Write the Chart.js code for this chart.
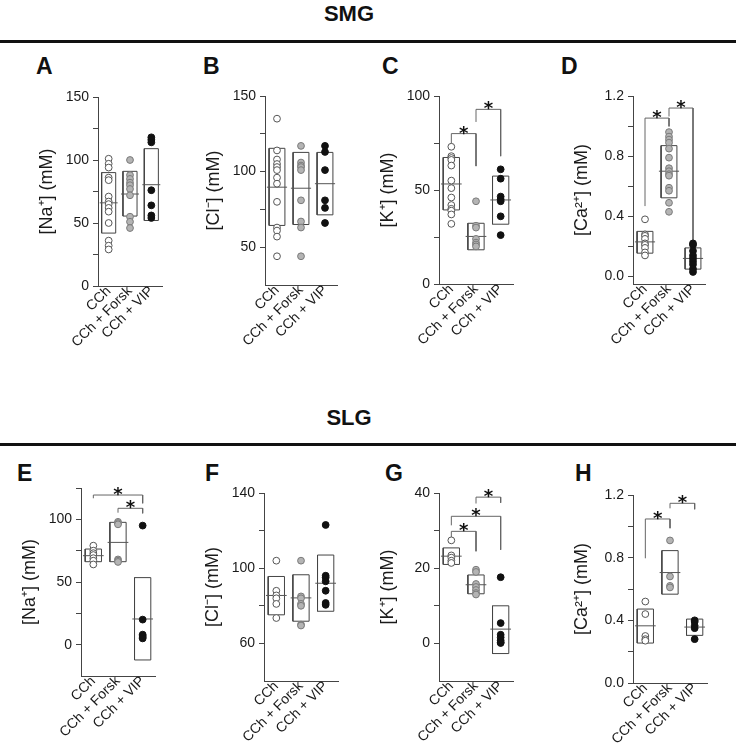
<!DOCTYPE html>
<html lang="en">
<head>
<meta charset="UTF-8">
<title>SMG / SLG ion content</title>
<script src="https://cdn.jsdelivr.net/npm/chart.js@4"></script>
<style>
  body { margin: 0; background: #fff; font-family: "Liberation Sans", Arial, sans-serif; }
  #page { position: relative; width: 737px; height: 753px; overflow: hidden; }
  .head { position: absolute; width: 120px; text-align: center; font-weight: bold; font-size: 22px; line-height: 22px; color: #111; }
  .rule { position: absolute; left: 0; width: 736px; height: 3px; background: #111; }
  .letter { position: absolute; font-weight: bold; font-size: 23px; line-height: 23px; color: #111; }
  canvas { position: absolute; }
</style>
</head>
<body>
<div id="page">
  <div class="head" style="left:289px; top:3px;">SMG</div>
  <div class="rule" style="top:40px;"></div>
  <div class="head" style="left:289px; top:407px;">SLG</div>
  <div class="rule" style="top:443px;"></div>
</div>
<script>
const groups = ['CCh', 'CCh + Forsk', 'CCh + VIP'];

// A  SMG [Na+]
const aCCh = [101, 97, 94, 86, 84, 71, 67, 65, 62, 59, 50, 36, 32, 29];
const aForsk = [100, 88, 85, 82, 80, 77, 72, 55, 51, 46];
const aVIP = [118, 116, 114, 76, 64, 56, 54];
const aMean = [66, 73, 80.4];
const aHigh = [90, 91, 109];
const aLow = [42, 55.5, 52];
const aBrackets = [];

// B  SMG [Cl-]
const bCCh = [135, 114, 108, 105, 103, 101, 96, 92, 80, 63, 61, 57, 44];
const bForsk = [117, 106, 104, 103, 101, 81, 67, 63, 44];
const bVIP = [117, 113, 101, 81, 76, 66];
const bMean = [89.7, 89, 92];
const bHigh = [115.4, 112.7, 112.7];
const bLow = [64.4, 65, 71.4];
const bBrackets = [];

// C  SMG [K+]
const cCCh = [73, 68, 67, 66, 63, 55, 51, 46, 42, 40, 39, 37, 32];
const cForsk = [44, 31, 30, 24, 22, 21, 20];
const cVIP = [61, 56, 46.5, 45, 44, 36, 26];
const cMean = [53.2, 25.3, 44.7];
const cHigh = [67.3, 32.3, 57.4];
const cLow = [39.4, 18.2, 31.8];
const cBrackets = [[0, 1, 74.2, 80, 62.7], [1, 2, 86.2, 92.9, 68]];

// D  SMG [Ca2+]
const dCCh = [0.38, 0.28, 0.27, 0.25, 0.22, 0.21, 0.19, 0.16, 0.14];
const dForsk = [0.96, 0.93, 0.91, 0.89, 0.85, 0.79, 0.72, 0.70, 0.68, 0.67, 0.59, 0.57, 0.49, 0.43];
const dVIP = [0.22, 0.21, 0.17, 0.14, 0.12, 0.10, 0.08, 0.05, 0.03];
const dMean = [0.23, 0.70, 0.12];
const dHigh = [0.30, 0.87, 0.19];
const dLow = [0.155, 0.523, 0.049];
const dBrackets = [[0, 1, 0.468, 1.053, 0.998], [1, 2, 1.064, 1.12, 0.24]];

// E  SLG [Na+]
const eCCh = [79, 75, 73, 71.5, 69, 67, 64];
const eForsk = [98, 97, 96, 68, 67, 66];
const eVIP = [95, 20, 8, 7, 6, 5];
const eMean = [71, 81.6, 20.5];
const eHigh = [76.3, 97.6, 53.5];
const eLow = [66.2, 66.2, -12.2];
const eBrackets = [[0, 2, 116.8, 119.4, 112.8], [1, 2, 105.3, 108.8, 104.8]];

// F  SLG [Cl-]
const fCCh = [104, 88, 85.5, 84, 81, 73.5];
const fForsk = [104, 85, 84, 81, 80, 70, 69.5];
const fVIP = [123, 96, 95, 93, 88, 81.5, 80.5];
const fMean = [85.5, 84.2, 92];
const fHigh = [95.6, 96.5, 107];
const fLow = [75.2, 71.8, 77.1];
const fBrackets = [];

// G  SLG [K+]
const gCCh = [27.4, 23.4, 22.8, 22, 21.4];
const gForsk = [19.6, 19, 15.8, 15, 14.2, 13.4, 13];
const gVIP = [17.6, 5.4, 2.3, 1.6, 0.8, 0.3, 0.1];
const gMean = [23.2, 15.6, 3.8];
const gHigh = [25.4, 18.2, 10];
const gLow = [21, 13.2, -2.7];
const gBrackets = [[0, 1, 28, 29.8, 24.5], [0, 2, 31.4, 33.8, 24.9], [1, 2, 37.2, 38.9, 37.4]];

// H  SLG [Ca2+]
const hCCh = [0.52, 0.44, 0.30, 0.28, 0.27];
const hForsk = [0.91, 0.68, 0.62, 0.61];
const hVIP = [0.40, 0.39, 0.365, 0.35, 0.28];
const hMean = [0.365, 0.705, 0.357];
const hHigh = [0.472, 0.845, 0.408];
const hLow = [0.255, 0.567, 0.304];
const hBrackets = [[0, 1, 0.796, 1.047, 0.988], [1, 2, 1.115, 1.147, 1.109]];

// y axes: tick marks and labelled ticks
const naTicks = [0, 25, 50, 75, 100, 125, 150];
const clTicks = [50, 75, 100, 125, 150];
const kTicks = [0, 25, 50, 75, 100];
const caTicks = [0, 0.2, 0.4, 0.6, 0.8, 1.0, 1.2];
const caLabels = [0, 0.4, 0.8, 1.2];

const panels = [
  { id: 'A', pts: [aCCh, aForsk, aVIP], mean: aMean, high: aHigh, low: aLow, br: aBrackets,
    title: '[Na\u207A] (mM)', min: 0, max: 150, ticks: naTicks, labels: [0, 50, 100, 150], dec: 0,
    box: { left: 98, top: 97, w: 64, h: 189 }, letter: [36, 55] },
  { id: 'B', pts: [bCCh, bForsk, bVIP], mean: bMean, high: bHigh, low: bLow, br: bBrackets,
    title: '[Cl\u207B] (mM)', min: 25, max: 150, ticks: clTicks, labels: [50, 100, 150], dec: 0,
    box: { left: 265, top: 96, w: 72, h: 189 }, letter: [203, 55] },
  { id: 'C', pts: [cCCh, cForsk, cVIP], mean: cMean, high: cHigh, low: cLow, br: cBrackets,
    title: '[K\u207A] (mM)', min: 0, max: 100, ticks: kTicks, labels: [0, 50, 100], dec: 0,
    box: { left: 439, top: 96, w: 74, h: 188 }, letter: [382, 55] },
  { id: 'D', pts: [dCCh, dForsk, dVIP], mean: dMean, high: dHigh, low: dLow, br: dBrackets,
    title: '[Ca\u00B2\u207A] (mM)', min: -0.05, max: 1.2, ticks: caTicks, labels: caLabels, dec: 1,
    box: { left: 633, top: 96, w: 72, h: 188 }, letter: [561, 55] },
  { id: 'E', pts: [eCCh, eForsk, eVIP], mean: eMean, high: eHigh, low: eLow, br: eBrackets,
    title: '[Na\u207A] (mM)', min: -25, max: 125, ticks: [0, 25, 50, 75, 100, 125], labels: [0, 50, 100], dec: 0,
    box: { left: 81, top: 488, w: 74, h: 188 }, letter: [17, 462] },
  { id: 'F', pts: [fCCh, fForsk, fVIP], mean: fMean, high: fHigh, low: fLow, br: fBrackets,
    title: '[Cl\u207B] (mM)', min: 40, max: 140, ticks: [60, 80, 100, 120, 140], labels: [60, 100, 140], dec: 0,
    box: { left: 264, top: 493, w: 74, h: 188 }, letter: [205, 462] },
  { id: 'G', pts: [gCCh, gForsk, gVIP], mean: gMean, high: gHigh, low: gLow, br: gBrackets,
    title: '[K\u207A] (mM)', min: -10, max: 40, ticks: [0, 10, 20, 30, 40], labels: [0, 20, 40], dec: 0,
    box: { left: 439, top: 493, w: 74, h: 188 }, letter: [385, 462] },
  { id: 'H', pts: [hCCh, hForsk, hVIP], mean: hMean, high: hHigh, low: hLow, br: hBrackets,
    title: '[Ca\u00B2\u207A] (mM)', min: 0, max: 1.2, ticks: caTicks, labels: caLabels, dec: 1,
    box: { left: 633, top: 495, w: 74, h: 188 }, letter: [575, 462] }
];

const FONT = '"Liberation Sans", Arial, sans-serif';
const TXT = '#1a1a1a';
const AXIS = '#444';
const fills = ['#ffffff', '#b4b4b4', '#111111'];
const edges = ['#555555', '#7a7a7a', '#111111'];
const YW = 62, PT = 24, PR = 12, XH = 84;
const BOXW = 0.33, MEANW = 0.42;

const page = document.getElementById('page');

function line(pts, color, order) {
  return { data: pts, showLine: true, pointRadius: 0, borderColor: color, borderWidth: 1,
           fill: false, tension: 0, order: order };
}

panels.forEach(p => {
  const lt = document.createElement('div');
  lt.className = 'letter';
  lt.style.left = p.letter[0] + 'px';
  lt.style.top = p.letter[1] + 'px';
  lt.textContent = p.id;
  page.appendChild(lt);

  const cv = document.createElement('canvas');
  const W = YW + p.box.w + PR, H = PT + p.box.h + XH;
  cv.width = W; cv.height = H;
  cv.style.left = (p.box.left - YW) + 'px';
  cv.style.top = (p.box.top - PT) + 'px';
  cv.style.width = W + 'px'; cv.style.height = H + 'px';
  page.appendChild(cv);

  const datasets = [];
  p.pts.forEach((vals, i) => {
    datasets.push({ data: vals.map(v => ({ x: i, y: v })), pointRadius: 3.4, pointHoverRadius: 3.4,
                    backgroundColor: fills[i], borderColor: edges[i], borderWidth: 1, order: 0 });
  });
  groups.forEach((g, i) => {
    datasets.push(line([
      { x: i - BOXW, y: p.low[i] }, { x: i + BOXW, y: p.low[i] },
      { x: i + BOXW, y: p.high[i] }, { x: i - BOXW, y: p.high[i] },
      { x: i - BOXW, y: p.low[i] }
    ], '#444', 2));
    datasets.push(line([{ x: i - MEANW, y: p.mean[i] }, { x: i + MEANW, y: p.mean[i] }], '#555', 1));
  });
  p.br.forEach(b => {
    datasets.push(line([
      { x: b[0], y: b[2] }, { x: b[0], y: b[3] }, { x: b[1], y: b[3] }, { x: b[1], y: b[4] }
    ], '#666', 3));
  });

  const stars = {
    id: 'stars' + p.id,
    afterDatasetsDraw(chart) {
      const ctx = chart.ctx, xs = chart.scales.x, ys = chart.scales.y;
      ctx.save();
      ctx.fillStyle = '#111';
      ctx.font = 'bold 18px "DejaVu Sans", sans-serif';
      ctx.textAlign = 'center';
      ctx.textBaseline = 'alphabetic';
      p.br.forEach(b => {
        ctx.fillText('*', xs.getPixelForValue((b[0] + b[1]) / 2), ys.getPixelForValue(b[3]) + 5);
      });
      ctx.restore();
    }
  };

  new Chart(cv.getContext('2d'), {
    type: 'scatter',
    data: { datasets: datasets },
    plugins: [stars],
    options: {
      responsive: false,
      animation: false,
      devicePixelRatio: 1,
      layout: { padding: { top: PT, right: PR, left: 0, bottom: 0 } },
      plugins: { legend: { display: false }, tooltip: { enabled: false } },
      scales: {
        x: {
          type: 'linear', min: -0.5, max: 2.5,
          afterBuildTicks: s => { s.ticks = groups.map((g, i) => ({ value: i })); },
          afterFit: s => { s.height = XH; },
          grid: { display: false, drawTicks: false },
          border: { display: true, color: AXIS, width: 1 },
          ticks: { autoSkip: false, minRotation: 45, maxRotation: 45, padding: -3, color: TXT,
                   font: { size: 14, family: FONT }, callback: v => groups[v] }
        },
        y: {
          type: 'linear', min: p.min, max: p.max,
          afterBuildTicks: s => { s.ticks = p.ticks.map(v => ({ value: v })); },
          afterFit: s => { s.width = YW; },
          grid: { drawOnChartArea: false, drawTicks: true, tickLength: 5, color: AXIS },
          border: { display: true, color: AXIS, width: 1 },
          ticks: { padding: 4, color: TXT, font: { size: 14, family: FONT },
                   callback: v => p.labels.includes(v) ? v.toFixed(p.dec) : '' },
          title: { display: true, text: p.title, color: TXT, padding: 0,
                   font: { size: 18, family: FONT } }
        }
      }
    }
  });
});
</script>
</body>
</html>
